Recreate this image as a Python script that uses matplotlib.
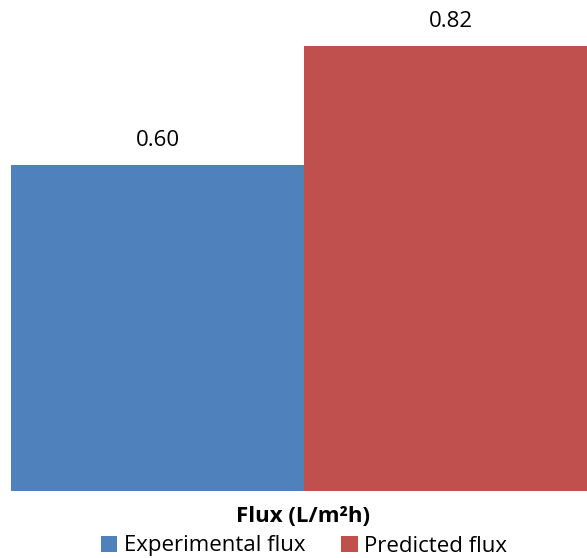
import matplotlib.pyplot as plt
from matplotlib.patches import Patch

SERIES = ["Experimental flux", "Predicted flux"]
VALUES = [0.60, 0.82]
COLORS = ["#4F81BD", "#C0504D"]
XLABEL = "Flux (L/m²h)"

plt.rcParams["font.family"] = ["Open Sans", "DejaVu Sans"]

fig = plt.figure(figsize=(5.87, 5.58), dpi=100)
ax = fig.add_axes([11 / 587, 67 / 558, 576 / 587, 488.7 / 558])

bars = ax.bar(range(len(VALUES)), VALUES, width=1.0, color=COLORS)
ax.bar_label(bars, labels=[f"{v:.2f}" for v in VALUES], padding=10, fontsize=16)

ax.set_xlim(-0.5, -0.5 + 576 / 293)
ax.set_ylim(0, 0.9)
ax.set_xticks([])
ax.set_yticks([])
for s in ax.spines.values():
    s.set_visible(False)

fig.text(0.517, (558 - 516) / 558, XLABEL, ha="center", va="center",
         fontsize=16, fontweight="bold")

handles = [Patch(facecolor=c, label=n) for c, n in zip(COLORS, SERIES)]
fig.legend(handles=handles, loc="center", bbox_to_anchor=(0.518, (558 - 546) / 558),
           ncol=2, frameon=False, fontsize=16, handlelength=0.75, handleheight=0.75,
           handletextpad=0.3, columnspacing=1.6, borderaxespad=0)

fig.savefig("out.png", dpi=100)
